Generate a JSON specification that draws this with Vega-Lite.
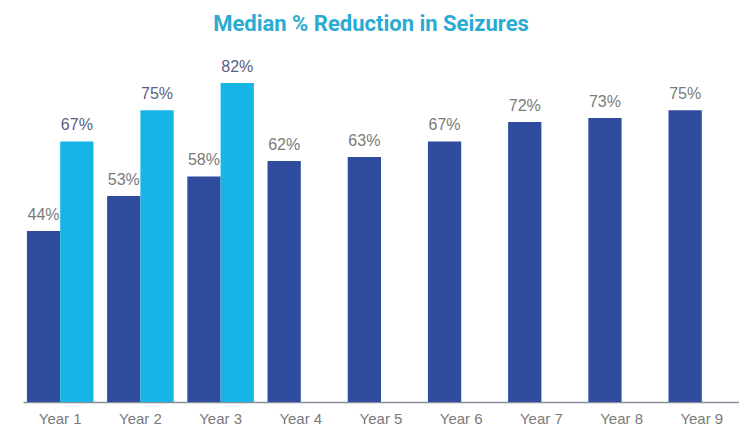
{
  "$schema": "https://vega.github.io/schema/vega-lite/v6.json",
  "width": 716,
  "height": 350,
  "autosize": "none",
  "padding": {"left": 23, "top": 52, "right": 0, "bottom": 23},
  "background": "white",
  "config": {"view": {"stroke": null}},
  "title": {
    "text": "Median % Reduction in Seizures",
    "font": "Roboto",
    "fontSize": 22,
    "fontWeight": "bold",
    "color": "#29abd4",
    "offset": 16,
    "dx": -10
  },
  "data": {
    "values": [
      {"year": "Year 1", "series": "Group 1", "value": 0.44},
      {"year": "Year 1", "series": "Group 2", "value": 0.67},
      {"year": "Year 2", "series": "Group 1", "value": 0.53},
      {"year": "Year 2", "series": "Group 2", "value": 0.75},
      {"year": "Year 3", "series": "Group 1", "value": 0.58},
      {"year": "Year 3", "series": "Group 2", "value": 0.82},
      {"year": "Year 4", "series": "Group 1", "value": 0.62},
      {"year": "Year 5", "series": "Group 1", "value": 0.63},
      {"year": "Year 6", "series": "Group 1", "value": 0.67},
      {"year": "Year 7", "series": "Group 1", "value": 0.72},
      {"year": "Year 8", "series": "Group 1", "value": 0.73},
      {"year": "Year 9", "series": "Group 1", "value": 0.75}
    ]
  },
  "layer": [
    {
      "mark": {"type": "bar"},
      "encoding": {
        "x": {
          "field": "year",
          "type": "nominal",
          "sort": null,
          "scale": {"paddingInner": 0.17, "paddingOuter": 0.049},
          "axis": {
            "title": null,
            "labelAngle": 0,
            "ticks": false,
            "labelFont": "Liberation Sans",
            "labelFontSize": 15,
            "labelColor": "#7a7a7a",
            "labelPadding": 9,
            "domainColor": "#8a8f9a",
            "domainWidth": 1.5
          }
        },
        "xOffset": {"field": "series", "type": "nominal", "scale": {"paddingInner": 0, "paddingOuter": 0}},
        "y": {
          "field": "value",
          "type": "quantitative",
          "scale": {"domain": [0, 0.9], "nice": false},
          "axis": null
        },
        "color": {
          "field": "series",
          "type": "nominal",
          "scale": {"domain": ["Group 1", "Group 2"], "range": ["#2f4c9f", "#17b5e5"]},
          "legend": null
        }
      }
    },
    {
      "mark": {"type": "text", "baseline": "alphabetic", "dy": -11, "font": "Liberation Sans", "fontSize": 16},
      "encoding": {
        "x": {"field": "year", "type": "nominal", "sort": null},
        "xOffset": {"field": "series", "type": "nominal"},
        "y": {"field": "value", "type": "quantitative"},
        "text": {"field": "value", "type": "quantitative", "format": ".0%"},
        "color": {
          "condition": {"test": "datum.series === 'Group 2'", "value": "#5a6080"},
          "value": "#7a7a7a"
        }
      }
    }
  ]
}
